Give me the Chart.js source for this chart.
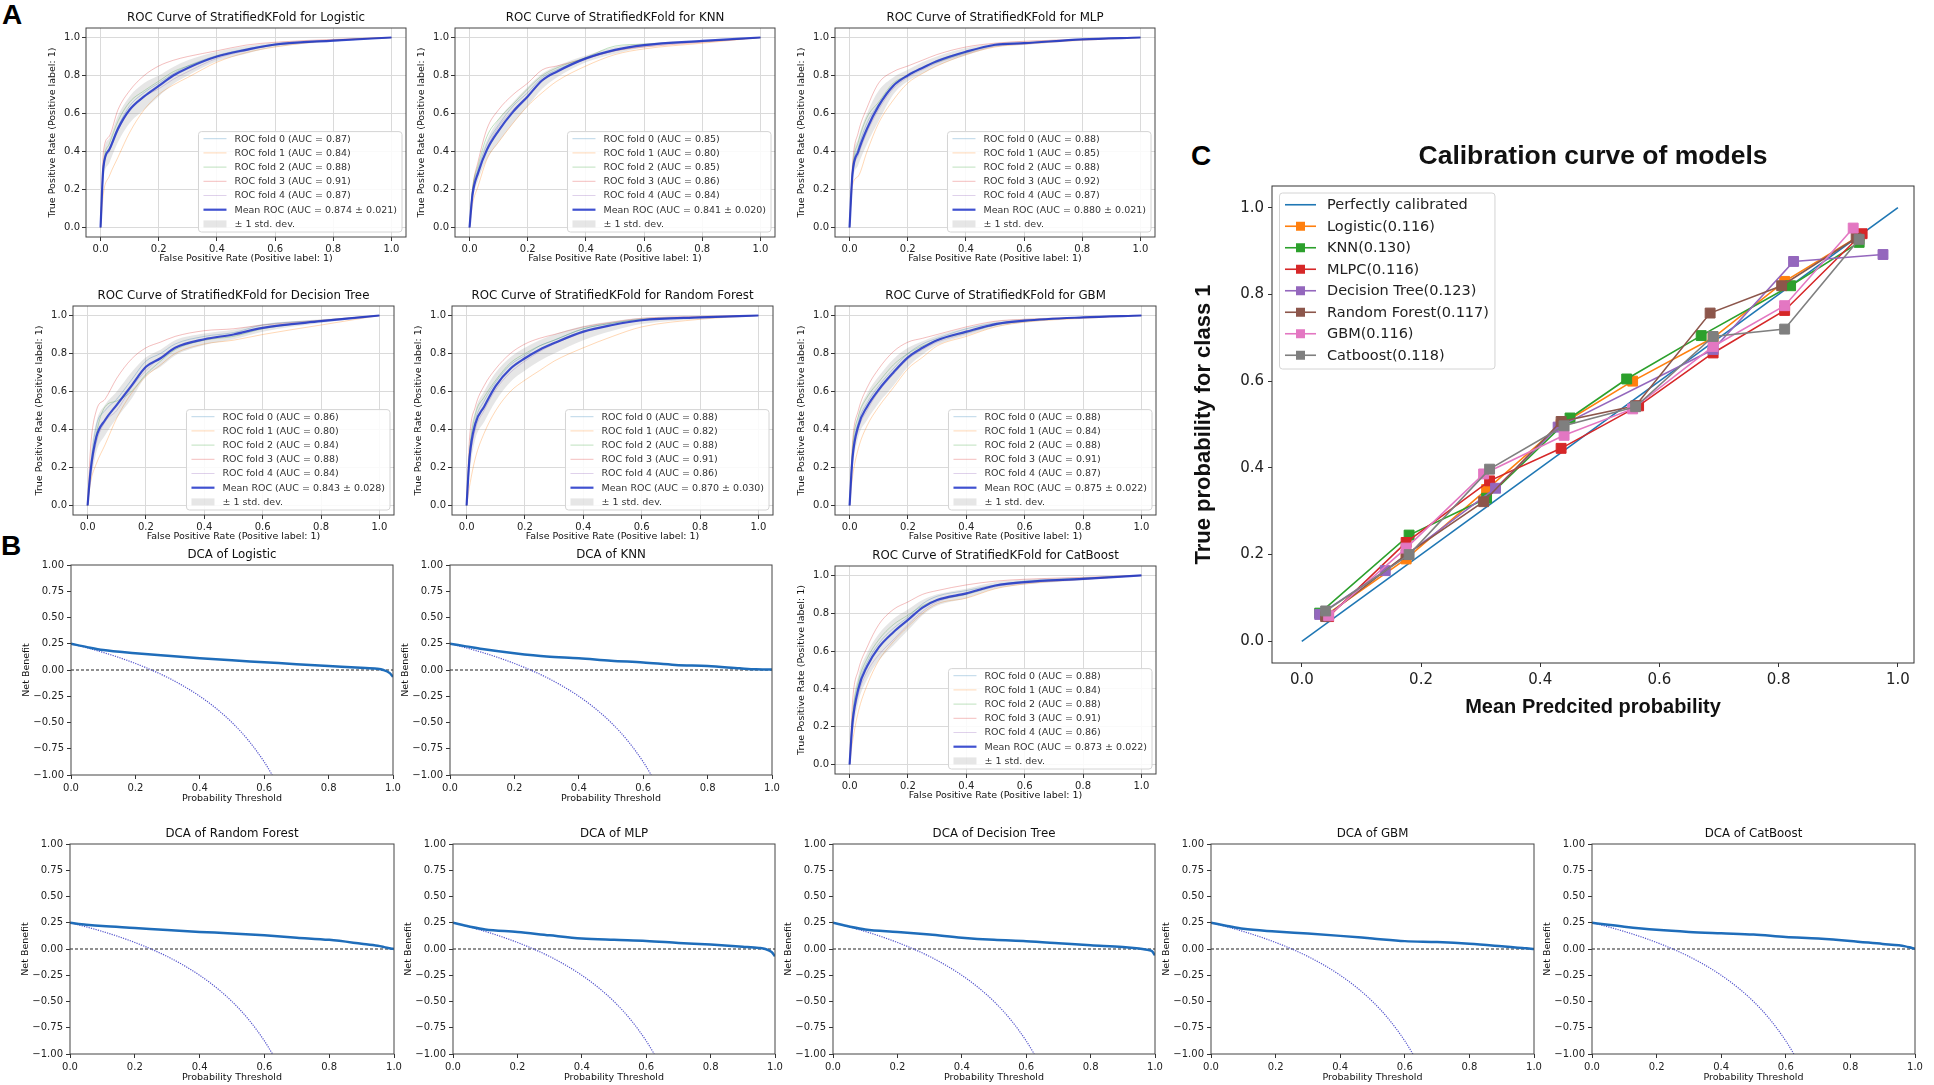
<!DOCTYPE html>
<html>
<head>
<meta charset="utf-8">
<script src="https://cdn.jsdelivr.net/npm/chart.js@4.4.1/dist/chart.umd.min.js"></script>
<style>
  html, body { margin: 0; padding: 0; background: #fff; }
  body { width: 1934px; height: 1085px; position: relative; overflow: hidden; }
  .box { position: absolute; }
  .tag { position: absolute; font: bold 28px/28px "Liberation Sans", Arial, sans-serif; color: #000; }
</style>
</head>
<body>
<div class="tag" style="left:2px;top:1px">A</div>
<div class="tag" style="left:1px;top:532px">B</div>
<div class="tag" style="left:1191px;top:142px">C</div>
<script>
// ---- ROC data (tpr read at a shared fpr grid) ----
const rocFpr = [0, 0.01, 0.03, 0.06, 0.1, 0.15, 0.2, 0.25, 0.3, 0.4, 0.5, 0.6, 0.8, 1.0];
const rocTicks = [0, 0.2, 0.4, 0.6, 0.8, 1.0];

const foldsLogistic = [
  [0,0.30,0.41,0.53,0.64,0.71,0.76,0.81,0.85,0.905,0.94,0.965,0.982,1],
  [0,0.18,0.27,0.37,0.50,0.62,0.70,0.75,0.79,0.87,0.92,0.95,0.985,1],
  [0,0.33,0.44,0.56,0.66,0.72,0.77,0.82,0.85,0.90,0.935,0.96,0.985,1],
  [0,0.40,0.48,0.62,0.72,0.80,0.85,0.88,0.90,0.93,0.96,0.975,0.99,1],
  [0,0.30,0.40,0.51,0.62,0.69,0.73,0.78,0.82,0.89,0.93,0.96,0.985,1]];
const meanLogistic  = [0,0.32,0.41,0.52,0.62,0.69,0.745,0.80,0.84,0.90,0.935,0.963,0.984,1];
const upperLogistic = [0,0.38,0.47,0.59,0.69,0.76,0.80,0.845,0.88,0.925,0.955,0.975,0.99,1];
const lowerLogistic = [0,0.25,0.34,0.45,0.55,0.62,0.69,0.755,0.80,0.875,0.915,0.95,0.978,1];
const aucLogistic = [0.87, 0.84, 0.88, 0.91, 0.87];
const meanAucLogistic = [0.874, 0.021];

const foldsKNN = [
  [0,0.19,0.31,0.44,0.54,0.64,0.71,0.79,0.83,0.89,0.935,0.96,0.98,1],
  [0,0.12,0.22,0.36,0.45,0.55,0.64,0.71,0.77,0.85,0.91,0.94,0.97,1],
  [0,0.20,0.33,0.48,0.57,0.65,0.73,0.80,0.84,0.895,0.955,0.965,0.98,1],
  [0,0.20,0.35,0.52,0.62,0.70,0.76,0.83,0.85,0.89,0.93,0.95,0.975,1],
  [0,0.17,0.29,0.42,0.53,0.62,0.69,0.77,0.82,0.885,0.93,0.955,0.978,1]];
const meanKNN  = [0,0.17,0.29,0.41,0.51,0.61,0.69,0.775,0.82,0.89,0.935,0.96,0.982,1];
const upperKNN = [0,0.20,0.33,0.46,0.57,0.66,0.74,0.81,0.85,0.905,0.95,0.968,0.985,1];
const lowerKNN = [0,0.14,0.25,0.36,0.45,0.55,0.64,0.73,0.79,0.87,0.915,0.948,0.976,1];
const aucKNN = [0.85, 0.80, 0.85, 0.86, 0.84];
const meanAucKNN = [0.841, 0.020];

const foldsMLP = [
  [0,0.29,0.42,0.55,0.65,0.75,0.80,0.84,0.88,0.925,0.96,0.97,0.99,1],
  [0,0.22,0.27,0.40,0.55,0.67,0.76,0.81,0.85,0.91,0.95,0.965,0.985,1],
  [0,0.30,0.45,0.58,0.66,0.76,0.80,0.84,0.87,0.92,0.96,0.97,0.99,1],
  [0,0.33,0.50,0.63,0.76,0.82,0.85,0.88,0.91,0.95,0.97,0.98,0.99,1],
  [0,0.27,0.38,0.50,0.62,0.73,0.79,0.83,0.865,0.915,0.955,0.97,0.99,1]];
const meanMLP  = [0,0.28,0.40,0.52,0.64,0.745,0.80,0.84,0.875,0.925,0.962,0.97,0.99,1];
const upperMLP = [0,0.33,0.47,0.60,0.72,0.79,0.83,0.87,0.90,0.945,0.97,0.98,0.993,1];
const lowerMLP = [0,0.23,0.33,0.44,0.56,0.70,0.77,0.81,0.85,0.905,0.95,0.96,0.985,1];
const aucMLP = [0.88, 0.85, 0.88, 0.92, 0.87];
const meanAucMLP = [0.880, 0.021];

const foldsDT = [
  [0,0.20,0.42,0.50,0.56,0.66,0.76,0.80,0.85,0.89,0.91,0.95,0.975,1],
  [0,0.12,0.22,0.32,0.46,0.59,0.68,0.74,0.80,0.85,0.87,0.90,0.95,1],
  [0,0.17,0.38,0.52,0.55,0.60,0.69,0.76,0.82,0.87,0.89,0.93,0.97,1],
  [0,0.30,0.50,0.56,0.67,0.77,0.83,0.86,0.89,0.92,0.93,0.95,0.975,1],
  [0,0.15,0.33,0.44,0.50,0.62,0.71,0.78,0.83,0.87,0.90,0.935,0.97,1]];
const meanDT  = [0,0.18,0.36,0.45,0.53,0.63,0.73,0.775,0.83,0.875,0.90,0.935,0.97,1];
const upperDT = [0,0.25,0.44,0.53,0.60,0.70,0.78,0.82,0.87,0.905,0.925,0.955,0.98,1];
const lowerDT = [0,0.11,0.28,0.37,0.46,0.56,0.68,0.73,0.79,0.845,0.875,0.915,0.96,1];
const aucDT = [0.86, 0.80, 0.84, 0.88, 0.84];
const meanAucDT = [0.843, 0.028];

const foldsRF = [
  [0,0.27,0.45,0.55,0.65,0.74,0.79,0.84,0.87,0.93,0.96,0.98,0.99,1],
  [0,0.10,0.25,0.38,0.50,0.60,0.66,0.71,0.76,0.83,0.89,0.94,0.98,1],
  [0,0.28,0.48,0.57,0.66,0.75,0.80,0.84,0.87,0.93,0.96,0.98,0.99,1],
  [0,0.35,0.52,0.63,0.72,0.80,0.85,0.88,0.90,0.94,0.965,0.985,0.995,1],
  [0,0.22,0.40,0.50,0.61,0.70,0.76,0.81,0.85,0.91,0.95,0.975,0.99,1]];
const meanRF  = [0,0.25,0.43,0.52,0.63,0.72,0.775,0.82,0.855,0.915,0.95,0.975,0.99,1];
const upperRF = [0,0.32,0.50,0.60,0.70,0.78,0.83,0.87,0.90,0.945,0.97,0.988,0.995,1];
const lowerRF = [0,0.17,0.35,0.44,0.55,0.65,0.71,0.76,0.80,0.87,0.92,0.955,0.982,1];
const aucRF = [0.88, 0.82, 0.88, 0.91, 0.86];
const meanAucRF = [0.870, 0.030];

const foldsGBM = [
  [0,0.27,0.44,0.54,0.63,0.72,0.80,0.85,0.88,0.93,0.96,0.975,0.99,1],
  [0,0.15,0.30,0.42,0.52,0.62,0.72,0.78,0.84,0.89,0.94,0.965,0.985,1],
  [0,0.30,0.47,0.57,0.65,0.74,0.80,0.84,0.87,0.91,0.95,0.97,0.99,1],
  [0,0.33,0.50,0.62,0.72,0.81,0.86,0.88,0.90,0.94,0.97,0.98,0.99,1],
  [0,0.23,0.40,0.50,0.60,0.69,0.77,0.82,0.86,0.905,0.95,0.97,0.99,1]];
const meanGBM  = [0,0.25,0.42,0.52,0.61,0.70,0.78,0.83,0.87,0.915,0.955,0.973,0.99,1];
const upperGBM = [0,0.31,0.48,0.59,0.68,0.77,0.83,0.865,0.895,0.935,0.97,0.983,0.994,1];
const lowerGBM = [0,0.19,0.36,0.45,0.54,0.63,0.73,0.795,0.845,0.895,0.94,0.963,0.985,1];
const aucGBM = [0.88, 0.84, 0.88, 0.91, 0.87];
const meanAucGBM = [0.875, 0.022];

const foldsCat = [
  [0,0.24,0.42,0.54,0.64,0.72,0.78,0.85,0.89,0.92,0.95,0.97,0.985,1],
  [0,0.12,0.28,0.42,0.55,0.65,0.73,0.80,0.85,0.88,0.93,0.955,0.98,1],
  [0,0.26,0.44,0.56,0.66,0.74,0.79,0.84,0.87,0.90,0.945,0.965,0.985,1],
  [0,0.33,0.50,0.62,0.74,0.82,0.86,0.90,0.92,0.95,0.97,0.98,0.99,1],
  [0,0.20,0.37,0.49,0.58,0.66,0.74,0.81,0.86,0.90,0.94,0.96,0.98,1]];
const meanCat  = [0,0.22,0.40,0.52,0.62,0.70,0.765,0.83,0.87,0.905,0.947,0.965,0.982,1];
const upperCat = [0,0.29,0.47,0.59,0.69,0.77,0.82,0.87,0.90,0.93,0.965,0.978,0.99,1];
const lowerCat = [0,0.15,0.33,0.45,0.55,0.63,0.71,0.79,0.84,0.88,0.93,0.952,0.975,1];
const aucCat = [0.88, 0.84, 0.88, 0.91, 0.86];
const meanAucCat = [0.873, 0.022];

// ---- DCA data ----
const dcaThr = [0, 0.05, 0.1, 0.2, 0.3, 0.4, 0.5, 0.6, 0.7, 0.8, 0.9, 0.95, 0.97, 0.99, 1.0];
const nbLogistic = [0.25,0.218,0.19,0.16,0.135,0.112,0.092,0.074,0.055,0.038,0.022,0.012,0.0,-0.03,-0.065];
const nbKNN      = [0.25,0.225,0.2,0.16,0.128,0.112,0.088,0.072,0.048,0.038,0.016,0.006,0.005,0.005,0.005];
const nbRF       = [0.25,0.232,0.218,0.2,0.18,0.163,0.148,0.13,0.108,0.087,0.05,0.03,0.018,0.005,0.0];
const nbMLP      = [0.25,0.215,0.186,0.163,0.13,0.1,0.087,0.077,0.058,0.042,0.022,0.01,0.0,-0.03,-0.07];
const nbDT       = [0.25,0.215,0.186,0.163,0.138,0.108,0.087,0.074,0.055,0.035,0.019,0.004,-0.005,-0.02,-0.06];
const nbGBM      = [0.25,0.22,0.192,0.167,0.147,0.125,0.1,0.075,0.066,0.05,0.026,0.013,0.008,0.003,0.0];
const nbCat      = [0.25,0.23,0.212,0.183,0.163,0.15,0.138,0.115,0.1,0.077,0.048,0.035,0.025,0.01,0.003];
const treatAllX = [0,0.05,0.1,0.15,0.2,0.25,0.3,0.35,0.4,0.45,0.5,0.55,0.6,0.625];
const treatAllY = [0.25,0.211,0.167,0.118,0.0625,0,-0.071,-0.154,-0.25,-0.364,-0.5,-0.667,-0.875,-1.0];
const treatNoneX = [0, 1];
const treatNoneY = [0, 0];
const dcaYTicks = [-1, -0.75, -0.5, -0.25, 0, 0.25, 0.5, 0.75, 1];
const dcaXTicks = [0, 0.2, 0.4, 0.6, 0.8, 1.0];

// ---- calibration data ----
const calNames = ['Logistic(0.116)', 'KNN(0.130)', 'MLPC(0.116)', 'Decision Tree(0.123)', 'Random Forest(0.117)', 'GBM(0.116)', 'Catboost(0.118)'];
const calX = [
  [0.04,0.175,0.31,0.435,0.555,0.69,0.81,0.935],
  [0.03,0.18,0.31,0.45,0.545,0.67,0.82,0.935],
  [0.045,0.175,0.315,0.435,0.565,0.69,0.81,0.94],
  [0.03,0.14,0.325,0.43,0.69,0.825,0.975],
  [0.04,0.175,0.305,0.435,0.56,0.685,0.805,0.93],
  [0.045,0.175,0.305,0.44,0.555,0.69,0.81,0.925],
  [0.04,0.18,0.315,0.44,0.56,0.69,0.81,0.935]];
const calY = [
  [0.06,0.19,0.35,0.50,0.60,0.70,0.83,0.935],
  [0.065,0.245,0.33,0.515,0.605,0.705,0.82,0.92],
  [0.057,0.228,0.37,0.445,0.543,0.665,0.763,0.94],
  [0.062,0.163,0.353,0.494,0.673,0.876,0.892],
  [0.057,0.2,0.322,0.507,0.543,0.757,0.82,0.93],
  [0.059,0.215,0.386,0.475,0.536,0.68,0.774,0.953],
  [0.07,0.2,0.397,0.497,0.541,0.703,0.72,0.927]];
const perfectX = [0, 1];
const perfectY = [0, 1];
const calTicks = [0, 0.2, 0.4, 0.6, 0.8, 1.0];

// ---- styles ----
const DV = '"DejaVu Sans", "Liberation Sans", sans-serif';
const LS = '"Liberation Sans", Arial, sans-serif';
const FOLD_COLORS = ['rgba(31,119,180,0.3)', 'rgba(255,127,14,0.3)', 'rgba(44,160,44,0.3)', 'rgba(214,39,40,0.3)', 'rgba(148,103,189,0.3)'];
const MEAN_COLOR = 'rgba(30,50,200,0.85)';
const BAND_COLOR = 'rgba(128,128,128,0.2)';
const CAL_COLORS = ['#ff7f0e', '#2ca02c', '#d62728', '#9467bd', '#8c564b', '#e377c2', '#7f7f7f'];

const fmt = (v, d) => Number(v).toFixed(d).replace('-', '\u2212');
const pts = (xs, ys) => xs.map((x, i) => ({x, y: ys[i]}));

// full box round the plot area, like matplotlib spines
const frameBox = {
  id: 'frameBox',
  afterDatasetsDraw(chart, args, o) {
    const a = chart.chartArea, ctx = chart.ctx;
    ctx.save();
    ctx.strokeStyle = o.color || '#333';
    ctx.lineWidth = o.width || 1;
    ctx.strokeRect(a.left, a.top, a.right - a.left, a.bottom - a.top);
    ctx.restore();
  }
};

// legend inside the axes
const innerLegend = {
  id: 'innerLegend',
  afterDraw(chart, args, o) {
    if (!o || !o.display) return;
    const ctx = chart.ctx, a = chart.chartArea;
    const items = chart.data.datasets.filter(d => d.legendKind);
    ctx.save();
    ctx.font = o.font;
    const tw = Math.max(...items.map(d => ctx.measureText(d.label).width));
    const w = o.textX + tw + o.padRight;
    const h = o.padTop + items.length * o.rowH + o.padBottom;
    const x = o.corner === 'br' ? a.right - o.dx - w : a.left + o.dx;
    const y = o.corner === 'br' ? a.bottom - o.dy - h : a.top + o.dy;
    ctx.fillStyle = 'rgba(255,255,255,0.85)';
    ctx.strokeStyle = '#d4d4d4';
    ctx.lineWidth = 1;
    ctx.beginPath();
    if (ctx.roundRect) ctx.roundRect(x, y, w, h, 3); else ctx.rect(x, y, w, h);
    ctx.fill(); ctx.stroke();
    items.forEach((d, i) => {
      const cy = y + o.padTop + o.rowH * (i + 0.5);
      const hx = x + o.handleX;
      if (d.legendKind === 'patch') {
        ctx.fillStyle = d.backgroundColor;
        ctx.fillRect(hx, cy - o.patchH / 2, o.handleLen, o.patchH);
      } else {
        ctx.strokeStyle = d.borderColor;
        ctx.lineWidth = d.borderWidth;
        ctx.beginPath(); ctx.moveTo(hx, cy); ctx.lineTo(hx + o.handleLen, cy); ctx.stroke();
        if (d.legendKind === 'marker') {
          const s = o.markerSize;
          ctx.fillStyle = d.pointBackgroundColor;
          ctx.fillRect(hx + o.handleLen / 2 - s / 2, cy - s / 2, s, s);
        }
      }
      ctx.fillStyle = o.textColor;
      ctx.textBaseline = 'middle';
      ctx.textAlign = 'left';
      ctx.fillText(d.label, x + o.textX, cy + 0.5);
    });
    ctx.restore();
  }
};
Chart.register(frameBox, innerLegend);

function makeCanvas(f, m) {
  const div = document.createElement('div');
  div.className = 'box';
  div.style.left = (f.l - m.l) + 'px';
  div.style.top = (f.t - m.t) + 'px';
  div.style.width = (f.r - f.l + m.l + m.r) + 'px';
  div.style.height = (f.b - f.t + m.t + m.b) + 'px';
  const c = document.createElement('canvas');
  div.appendChild(c);
  document.body.appendChild(div);
  return c;
}

// s: sizes and gaps of one panel style
function panel(f, m, s, title, xs, ys, datasets, legend) {
  const tLh = s.titleSize * 1.2;
  const tPb = s.titleGap - tLh / 2;
  const axis = (horiz, a) => {
    const size = horiz ? s.labelSize : (s.yLabelSize || s.labelSize);
    const aLh = size * 1.2;
    return {
      type: 'linear', min: a.lim[0], max: a.lim[1], bounds: 'data',
      afterBuildTicks: sc => { sc.ticks = a.ticks.map(v => ({value: v})); },
      afterFit: sc => {
        if (horiz) { sc.height = m.b; sc.paddingLeft = 0; sc.paddingRight = 0; }
        else { sc.width = m.l; sc.paddingTop = 0; sc.paddingBottom = 0; }
      },
      border: {display: false},
      grid: {display: true, drawOnChartArea: s.grid, color: '#dadada', lineWidth: 1,
             drawTicks: true, tickLength: 4, tickColor: '#333', tickWidth: 1},
      ticks: {autoSkip: false, maxRotation: 0, minRotation: 0, padding: s.tickPad, color: '#222',
              font: {family: DV, size: s.tickSize}, callback: v => fmt(v, a.dec)},
      title: {display: true, text: a.label, color: '#111',
              font: {family: s.labelFamily, size: size, weight: s.labelWeight},
              padding: horiz ? {top: 0, bottom: m.b - s.xLabelGap - aLh / 2} : {top: m.l - s.yLabelGap - aLh / 2, bottom: 0}}
    };
  };
  return new Chart(makeCanvas(f, m), {
    type: 'line',
    data: {datasets},
    options: {
      responsive: true, maintainAspectRatio: false, animation: false, events: [],
      layout: {padding: {left: 0, top: 0, right: m.r, bottom: 0}},
      scales: {x: axis(true, xs), y: axis(false, ys)},
      plugins: {
        legend: {display: false}, tooltip: {enabled: false},
        title: {display: true, text: title, color: '#111', fullSize: false,
                font: {family: s.titleFamily, size: s.titleSize, weight: s.titleWeight},
                padding: {top: m.t - tLh - tPb, bottom: tPb}},
        frameBox: {color: s.frameColor, width: 1},
        innerLegend: legend || {display: false}
      }
    }
  });
}

const smallStyle = {titleSize: 11.8, titleFamily: DV, titleWeight: 'normal', titleGap: 10,
  labelSize: 9.5, labelFamily: DV, labelWeight: 'normal', tickSize: 10, grid: false, frameColor: '#444'};
const rocStyle = Object.assign({}, smallStyle, {grid: true, tickPad: 2, xLabelGap: 22, yLabelGap: 33});
const dcaStyle = Object.assign({}, smallStyle, {tickPad: 3, xLabelGap: 24, yLabelGap: 44});
const rocMargin = {l: 40, t: 22, r: 6, b: 30};
const dcaMargin = {l: 52, t: 22, r: 10, b: 32};

const rocLegend = {display: true, corner: 'br', dx: 4, dy: 5, rowH: 14.2, padTop: 0, padBottom: 1,
  handleX: 5, handleLen: 23, textX: 36, padRight: 5, patchH: 7, markerSize: 0,
  font: '9.5px ' + DV, textColor: '#333'};

function rocPanel(f, name, folds, mean, upper, lower, aucs, meanAuc) {
  const ds = folds.map((tpr, i) => ({
    label: `ROC fold ${i} (AUC = ${aucs[i].toFixed(2)})`, data: pts(rocFpr, tpr),
    borderColor: FOLD_COLORS[i], borderWidth: 1, pointRadius: 0, cubicInterpolationMode: 'monotone',
    order: 3, legendKind: 'line'}));
  ds.push({label: `Mean ROC (AUC = ${meanAuc[0].toFixed(3)} \u00b1 ${meanAuc[1].toFixed(3)})`,
    data: pts(rocFpr, mean), borderColor: MEAN_COLOR, borderWidth: 2.2, pointRadius: 0,
    cubicInterpolationMode: 'monotone', order: 0, legendKind: 'line'});
  ds.push({label: '\u00b1 1 std. dev.', data: pts(rocFpr, upper), borderWidth: 0, borderColor: 'rgba(0,0,0,0)',
    backgroundColor: BAND_COLOR, fill: '+1', pointRadius: 0, cubicInterpolationMode: 'monotone',
    order: 1, legendKind: 'patch'});
  ds.push({label: '', data: pts(rocFpr, lower), borderWidth: 0, borderColor: 'rgba(0,0,0,0)',
    fill: false, pointRadius: 0, cubicInterpolationMode: 'monotone', order: 1});
  const ax = {lim: [-0.05, 1.05], ticks: rocTicks, dec: 1};
  panel(f, rocMargin, rocStyle, 'ROC Curve of StratifiedKFold for ' + name,
    Object.assign({label: 'False Positive Rate (Positive label: 1)'}, ax),
    Object.assign({label: 'True Positive Rate (Positive label: 1)'}, ax), ds, rocLegend);
}

function dcaPanel(f, name, nb) {
  const ds = [
    {data: pts(dcaThr, nb), borderColor: '#1f6dba', borderWidth: 2.5, pointRadius: 0,
     cubicInterpolationMode: 'monotone', order: 0},
    {data: pts(treatAllX, treatAllY), borderColor: '#5454cc', borderWidth: 1.2, borderDash: [1.2, 1.2],
     pointRadius: 0, cubicInterpolationMode: 'monotone', order: 1},
    {data: pts(treatNoneX, treatNoneY), borderColor: '#222', borderWidth: 1.2, borderDash: [3, 2],
     pointRadius: 0, order: 2}];
  panel(f, dcaMargin, dcaStyle, 'DCA of ' + name,
    {label: 'Probability Threshold', lim: [0, 1], ticks: dcaXTicks, dec: 1},
    {label: 'Net Benefit', lim: [-1, 1], ticks: dcaYTicks, dec: 2}, ds, null);
}

// A: ROC panels
rocPanel({l: 86, t: 28, r: 406, b: 237}, 'Logistic', foldsLogistic, meanLogistic, upperLogistic, lowerLogistic, aucLogistic, meanAucLogistic);
rocPanel({l: 455, t: 28, r: 775, b: 237}, 'KNN', foldsKNN, meanKNN, upperKNN, lowerKNN, aucKNN, meanAucKNN);
rocPanel({l: 835, t: 28, r: 1155, b: 237}, 'MLP', foldsMLP, meanMLP, upperMLP, lowerMLP, aucMLP, meanAucMLP);
rocPanel({l: 73, t: 306, r: 394, b: 515}, 'Decision Tree', foldsDT, meanDT, upperDT, lowerDT, aucDT, meanAucDT);
rocPanel({l: 452, t: 306, r: 773, b: 515}, 'Random Forest', foldsRF, meanRF, upperRF, lowerRF, aucRF, meanAucRF);
rocPanel({l: 835, t: 306, r: 1156, b: 515}, 'GBM', foldsGBM, meanGBM, upperGBM, lowerGBM, aucGBM, meanAucGBM);
rocPanel({l: 835, t: 566, r: 1156, b: 774}, 'CatBoost', foldsCat, meanCat, upperCat, lowerCat, aucCat, meanAucCat);

// B: DCA panels
dcaPanel({l: 71, t: 565, r: 393, b: 775}, 'Logistic', nbLogistic);
dcaPanel({l: 450, t: 565, r: 772, b: 775}, 'KNN', nbKNN);
dcaPanel({l: 70, t: 844, r: 394, b: 1054}, 'Random Forest', nbRF);
dcaPanel({l: 453, t: 844, r: 775, b: 1054}, 'MLP', nbMLP);
dcaPanel({l: 833, t: 844, r: 1155, b: 1054}, 'Decision Tree', nbDT);
dcaPanel({l: 1211, t: 844, r: 1534, b: 1054}, 'GBM', nbGBM);
dcaPanel({l: 1592, t: 844, r: 1915, b: 1054}, 'CatBoost', nbCat);

// C: calibration
const calDs = [{label: 'Perfectly calibrated', data: pts(perfectX, perfectY), borderColor: '#1f77b4',
  borderWidth: 1.6, pointRadius: 0, order: 9, legendKind: 'line'}];
calNames.forEach((n, i) => calDs.push({
  label: n, data: pts(calX[i], calY[i]), borderColor: CAL_COLORS[i], borderWidth: 1.6,
  pointStyle: 'rect', pointRadius: 7, pointBackgroundColor: CAL_COLORS[i], pointBorderColor: CAL_COLORS[i],
  pointBorderWidth: 1, order: 8 - i, legendKind: 'marker'}));
panel({l: 1272, t: 186, r: 1914, b: 663}, {l: 92, t: 47, r: 10, b: 60},
  {titleSize: 26.5, titleFamily: LS, titleWeight: 'bold', titleGap: 29,
   labelSize: 20, yLabelSize: 22, labelFamily: LS, labelWeight: 'bold', tickSize: 15, grid: false, frameColor: '#333',
   tickPad: 4, xLabelGap: 44, yLabelGap: 68},
  'Calibration curve of models',
  {label: 'Mean Predcited probability', lim: [-0.05, 1.027], ticks: calTicks, dec: 1},
  {label: 'True probability for class 1', lim: [-0.05, 1.05], ticks: calTicks, dec: 1},
  calDs,
  {display: true, corner: 'tl', dx: 7.5, dy: 7, rowH: 21.5, padTop: 1, padBottom: 3,
   handleX: 5.5, handleLen: 31, textX: 47.5, padRight: 6, patchH: 0, markerSize: 9,
   font: '14.5px ' + DV, textColor: '#222'});
</script>
</body>
</html>
